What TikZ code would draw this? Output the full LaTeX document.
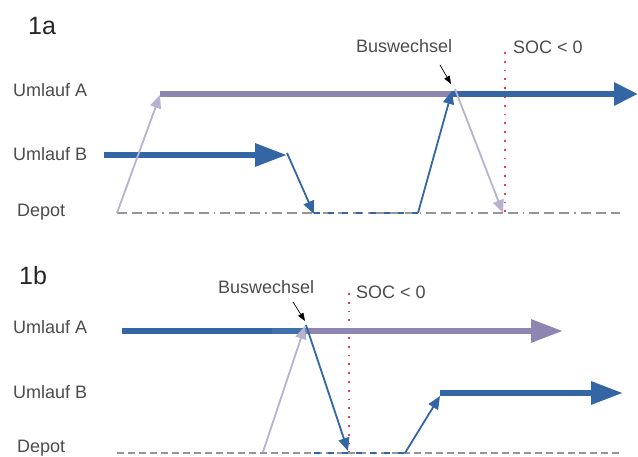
\documentclass[tikz,border=0pt]{standalone}
\usepackage{fontspec}
\setmainfont{Liberation Sans}
\usetikzlibrary{arrows.meta}
\definecolor{busblue}{RGB}{52,101,164}
\definecolor{buslight}{RGB}{66,112,172}
\definecolor{buspurple}{RGB}{142,134,176}
\definecolor{lightpurple}{RGB}{182,178,208}
\definecolor{socred}{RGB}{240,60,90}
\definecolor{depotgray}{RGB}{150,150,150}
\definecolor{txtgray}{RGB}{75,75,75}
\begin{document}
\begin{tikzpicture}[x=1pt,y=-1pt,
  lbl/.style={anchor=base west, inner sep=0pt, text=txtgray, font=\fontsize{18}{20}\selectfont},
  ttl/.style={anchor=base west, inner sep=0pt, text=black!85, font=\fontsize{25}{28}\selectfont},
  thickline/.style={line width=6pt},
  bigtip/.style={-{Triangle[length=32pt,width=22pt]}},
  thinline/.style={line width=1.8pt},
  smalltip/.style={-{Triangle[length=13pt,width=11pt]}},
  pointer/.style={draw=black, line width=0.7pt, -{Triangle[length=8pt,width=6pt]}},
  socline/.style={draw=socred, line width=1.8pt, dash pattern=on 1.8pt off 7pt},
  depotA/.style={draw=depotgray, line width=1.2pt, dash pattern=on 10pt off 5pt on 10pt off 5pt on 10pt off 5pt on 1.5pt off 5pt},
  depotB/.style={draw=depotgray, line width=1.2pt, dash pattern=on 7pt off 4pt},
  depotblue/.style={draw=busblue, line width=1.4pt, dash pattern=on 6pt off 8pt}
]
\useasboundingbox (0,0) rectangle (638,457);

% ---------- 1a ----------
\node[ttl] (t1a) at (28,35) {1a};
\node[lbl] (a-la) at (13,97) {Umlauf A};
\node[lbl] (a-lb) at (13,160.5) {Umlauf B};
\node[lbl] (a-ld) at (17,217) {Depot};
\node[lbl] (a-bw) at (356,53) {Buswechsel};
\node[lbl] (a-soc) at (513,54) {SOC < 0};

\coordinate (a-d0) at (117,213);
\coordinate (a-d9) at (620,213);
\coordinate (a-d1) at (314,213);
\coordinate (a-d2) at (418,213);
\coordinate (a-A0) at (160,94);
\coordinate (a-Ax) at (452,94);
\coordinate (a-A1) at (638,94);
\coordinate (a-B0) at (104,155);
\coordinate (a-B1) at (287,155);
\coordinate (a-s0) at (505,52);
\coordinate (a-s1) at (505,213);
\coordinate (a-p0) at (440,65);
\coordinate (a-p1) at (451,84);

\draw[depotA] (a-d0) -- (a-d9);
\draw[depotblue] (a-d1) -- (a-d2);
\draw[socline] (a-s0) -- (a-s1);
\draw[draw=buspurple, thickline] (a-A0) -- (a-Ax);
\draw[draw=busblue, thickline, -{Triangle[length=24pt,width=22pt]}] (a-Ax) -- (a-A1);
\draw[draw=busblue, thickline, bigtip] (a-B0) -- (a-B1);
\draw[draw=lightpurple, thinline, smalltip] (a-d0) -- ([yshift=-1pt]a-A0);
\draw[draw=busblue, thinline, smalltip] ([yshift=2pt]a-B1) -- ([yshift=-1pt]a-d1);
\draw[draw=busblue, thinline, smalltip] (a-d2) -- ([yshift=3pt]a-Ax);
\draw[draw=lightpurple, thinline, smalltip] ([xshift=3pt,yshift=5pt]a-Ax) -- ([xshift=-2pt]a-s1);
\draw[pointer] (a-p0) -- (a-p1);

% ---------- 1b ----------
\node[ttl] (t1b) at (19,285) {1b};
\node[lbl] (b-la) at (13,334) {Umlauf A};
\node[lbl] (b-lb) at (13,399) {Umlauf B};
\node[lbl] (b-ld) at (17,453) {Depot};
\node[lbl] (b-bw) at (218,294) {Buswechsel};
\node[lbl] (b-soc) at (356,299) {SOC < 0};

\coordinate (b-d0) at (117,453);
\coordinate (b-d9) at (620,453);
\coordinate (b-d1) at (314,453);
\coordinate (b-d2) at (405,453);
\coordinate (b-A0) at (122,331);
\coordinate (b-Am) at (272,331);
\coordinate (b-Ax) at (306,331);
\coordinate (b-A1) at (563,331);
\coordinate (b-B0) at (440,393);
\coordinate (b-B1) at (623,393);
\coordinate (b-lp0) at (263,452);
\coordinate (b-dn) at (348,451);
\coordinate (b-s0) at (349,293);
\coordinate (b-s1) at (349,452);
\coordinate (b-p0) at (293,302);
\coordinate (b-p1) at (305,321);

\draw[depotB] (b-d0) -- (b-d9);
\draw[depotblue] (b-d1) -- (b-d2);
\draw[socline] (b-s0) -- (b-s1);
\draw[draw=busblue, thickline] (b-A0) -- (b-Am);
\draw[draw=buslight, thickline] (b-Am) -- (b-Ax);
\draw[draw=buspurple, thickline, bigtip] (b-Ax) -- (b-A1);
\draw[draw=busblue, thickline, bigtip] (b-B0) -- (b-B1);
\draw[draw=lightpurple, thinline, smalltip] (b-lp0) -- ([xshift=-1pt,yshift=5pt]b-Ax);
\draw[draw=busblue, thinline, smalltip] ([yshift=6pt]b-Ax) -- (b-dn);
\draw[draw=busblue, thinline, smalltip] (b-d2) -- ([yshift=-3pt]b-B0);
\draw[pointer] (b-p0) -- (b-p1);
\end{tikzpicture}
\end{document}
